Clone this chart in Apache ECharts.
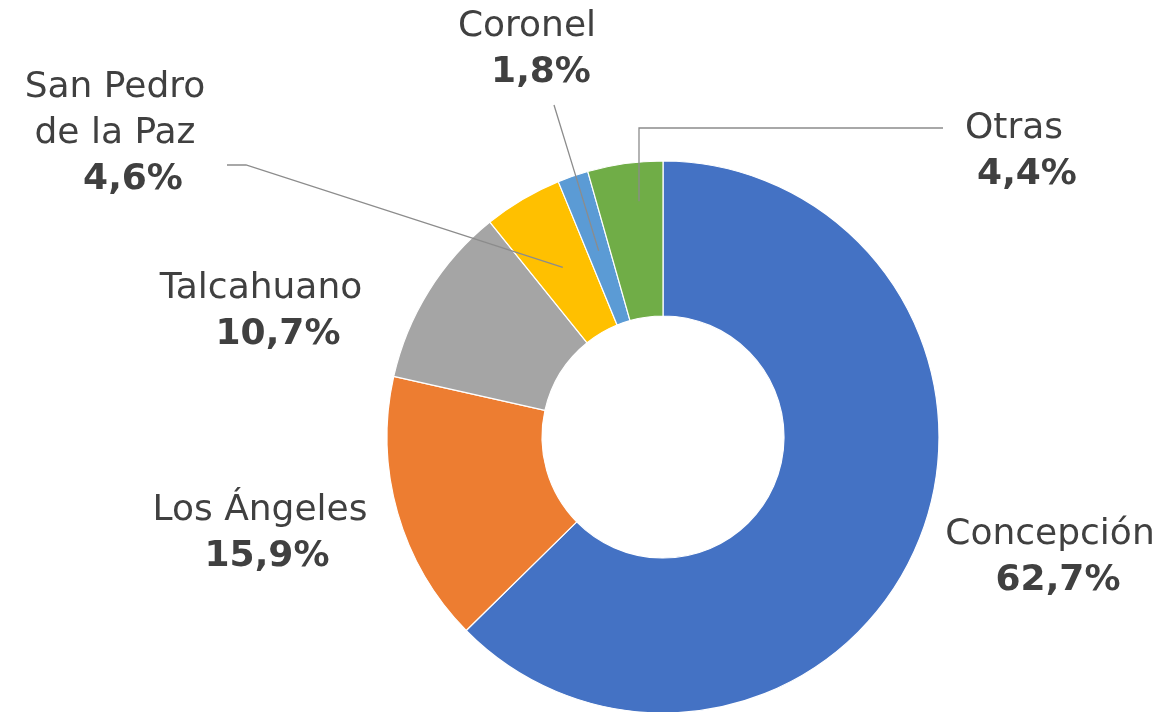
<!DOCTYPE html>
<html>
<head>
<meta charset="utf-8">
<script src="https://cdn.jsdelivr.net/npm/echarts@6/dist/echarts.min.js"></script>
<style>
  html, body { margin: 0; padding: 0; background: #ffffff; }
  #chart { width: 1161px; height: 712px; }
</style>
</head>
<body>
<div id="chart"></div>
<script>
// ---- data ----
const categories = ['Concepción', 'Los Ángeles', 'Talcahuano', 'San Pedro\nde la Paz', 'Coronel', 'Otras'];
const shares = [62.7, 15.9, 10.7, 4.6, 1.8, 4.4];
const colors = ['#4472C4', '#ED7D31', '#A5A5A5', '#FFC000', '#5B9BD5', '#70AD47'];
const showLine = [false, false, false, true, true, true];

// ---- layout (positions/styles, not data) ----
const CX = 663, CY = 437, R_IN = 121, R_OUT = 276;
const labelPos = [
  { x: 1050, y: 558, dv: 8 },
  { x: 260, y: 534, dv: 7 },
  { x: 261, y: 312, dv: 17 },
  { x: 115, y: 134, dv: 18 },
  { x: 527, y: 50, dv: 14 },
  { x: 1014, y: 152, dv: 13 }
];

const total = shares.reduce((a, b) => a + b, 0);
function midPoint(i, r) {
  let cum = 0;
  for (let k = 0; k < i; k++) cum += shares[k];
  const f = (cum + shares[i] / 2) / total;
  const t = f * 2 * Math.PI;
  return [CX + r * Math.sin(t), CY - r * Math.cos(t)];
}

function linePoints(i) {
  if (i === 3) { // San Pedro de la Paz
    const p = midPoint(i, 197);
    return [p, [246, 165], [227, 165]];
  }
  if (i === 4) { // Coronel
    const p = midPoint(i, 197);
    const q = [554, 105];
    return [p, [(p[0] + q[0]) / 2, (p[1] + q[1]) / 2], q];
  }
  if (i === 5) { // Otras
    const p = midPoint(i, 238);
    const x = 639;
    return [[x, p[1]], [x, 128], [943, 128]];
  }
  return null;
}

const chart = echarts.init(document.getElementById('chart'), null, { renderer: 'canvas' });

// base donut (sectors only)
const sectorData = categories.map((c, i) => ({
  name: c,
  value: shares[i],
  itemStyle: { color: colors[i] }
}));

// overlay (transparent sectors, labels + leader lines drawn above the donut)
const labelData = categories.map((c, i) => ({
  name: c,
  value: shares[i],
  labelLine: { show: showLine[i] },
  label: {
    rich: {
      v: {
        fontFamily: 'DejaVu Sans', fontSize: 36, fontWeight: 'bold', color: '#404040',
        lineHeight: 46, padding: [0, 0, 0, labelPos[i].dv * 2]
      }
    }
  }
}));

chart.setOption({
  backgroundColor: '#ffffff',
  animation: false,
  series: [{
    type: 'pie',
    z: 2,
    center: [CX, CY],
    radius: [R_IN, R_OUT],
    startAngle: 90,
    clockwise: true,
    silent: true,
    emphasis: { disabled: true },
    itemStyle: { borderColor: '#ffffff', borderWidth: 1.2 },
    label: { show: false },
    labelLine: { show: false },
    data: sectorData
  }, {
    type: 'pie',
    z: 5,
    center: [CX, CY],
    radius: [R_IN, R_OUT],
    startAngle: 90,
    clockwise: true,
    silent: true,
    avoidLabelOverlap: false,
    emphasis: { disabled: true },
    itemStyle: { color: 'rgba(0,0,0,0)', borderWidth: 0 },
    label: {
      show: true,
      position: 'outside',
      align: 'center',
      formatter: function (p) {
        const nameLines = p.name.split('\n').map(s => '{n|' + s + '}').join('\n');
        return nameLines + '\n{v|' + p.value.toFixed(1).replace('.', ',') + '%}';
      },
      rich: {
        n: { fontFamily: 'DejaVu Sans', fontSize: 36, color: '#404040', lineHeight: 46 },
        v: { fontFamily: 'DejaVu Sans', fontSize: 36, fontWeight: 'bold', color: '#404040', lineHeight: 46 }
      }
    },
    labelLine: {
      show: true,
      lineStyle: { color: '#8c8c8c', width: 1.3 }
    },
    labelLayout: function (params) {
      const i = params.dataIndex;
      const res = {
        x: labelPos[i].x,
        y: labelPos[i].y,
        align: 'center',
        verticalAlign: 'middle'
      };
      const pts = linePoints(i);
      if (pts) res.labelLinePoints = pts;
      return res;
    },
    data: labelData
  }]
});
</script>
</body>
</html>
